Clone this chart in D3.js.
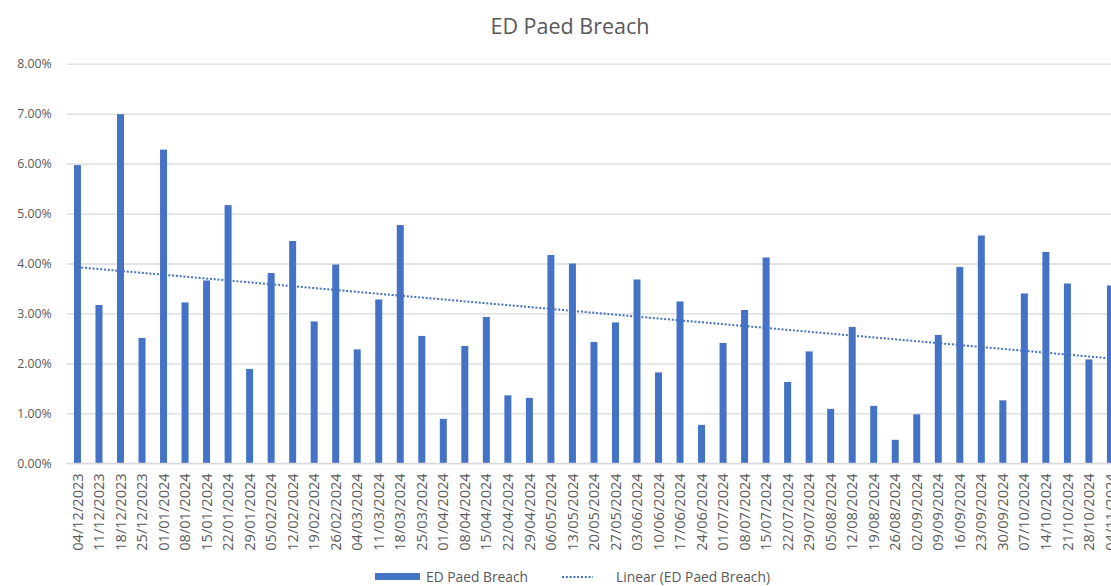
<!DOCTYPE html>
<html>
<head>
<meta charset="utf-8">
<script src="https://cdnjs.cloudflare.com/ajax/libs/d3/7.8.5/d3.min.js"></script>
<style>
  html, body { margin: 0; padding: 0; background: #fff; overflow: hidden; }
  svg { display: block; font-family: "Open Sans", "Noto Sans", sans-serif; }
</style>
</head>
<body>
<div id="chart"></div>
<script>
// weekly dates (week commencing)
var weeks = [
  "04/12/2023", "11/12/2023", "18/12/2023", "25/12/2023",
  "01/01/2024", "08/01/2024", "15/01/2024", "22/01/2024", "29/01/2024",
  "05/02/2024", "12/02/2024", "19/02/2024", "26/02/2024",
  "04/03/2024", "11/03/2024", "18/03/2024", "25/03/2024",
  "01/04/2024", "08/04/2024", "15/04/2024", "22/04/2024", "29/04/2024",
  "06/05/2024", "13/05/2024", "20/05/2024", "27/05/2024",
  "03/06/2024", "10/06/2024", "17/06/2024", "24/06/2024",
  "01/07/2024", "08/07/2024", "15/07/2024", "22/07/2024", "29/07/2024",
  "05/08/2024", "12/08/2024", "19/08/2024", "26/08/2024",
  "02/09/2024", "09/09/2024", "16/09/2024", "23/09/2024", "30/09/2024",
  "07/10/2024", "14/10/2024", "21/10/2024", "28/10/2024",
  "04/11/2024"
];

// ED Paed Breach (%)
var breachPct = [
  5.97, 3.17, 6.99, 2.51,
  6.28, 3.22, 3.66, 5.17, 1.89,
  3.81, 4.45, 2.84, 3.98,
  2.28, 3.28, 4.77, 2.55,
  0.89, 2.35, 2.93, 1.36, 1.31,
  4.17, 4.00, 2.43, 2.82,
  3.68, 1.82, 3.24, 0.77,
  2.41, 3.07, 4.12, 1.63, 2.24,
  1.09, 2.73, 1.15, 0.47,
  0.98, 2.57, 3.93, 4.56, 1.26,
  3.40, 4.23, 3.60, 2.08,
  3.56
];

var yTicks = [0, 0.01, 0.02, 0.03, 0.04, 0.05, 0.06, 0.07, 0.08];

var chartTitle = "ED Paed Breach";
var seriesName = "ED Paed Breach";
var trendName = "Linear (ED Paed Breach)";

var svgWidth = 1111;
var svgHeight = 586;

// plot area runs a bit past the right edge of the window (as in the original)
var plot = { left: 66.7, right: 1121.2, top: 63.7, bottom: 463.3 };

var barColor = "#4472C4";
var textColor = "#595959";
var gridColor = "#d9d9d9";

var data = weeks.map(function (w, i) {
  return { week: w, value: breachPct[i] / 100, idx: i };
});

var svg = d3.select("#chart").append("svg")
  .attr("width", svgWidth)
  .attr("height", svgHeight);

// scales
var xScale = d3.scaleBand()
  .domain(weeks)
  .range([plot.left, plot.right])
  .paddingInner(0.675)
  .paddingOuter(0.3375);

var yScale = d3.scaleLinear()
  .domain([0, 0.08])
  .range([plot.bottom, plot.top]);

// title
svg.append("text")
  .attr("x", 570)
  .attr("y", 34)
  .attr("text-anchor", "middle")
  .style("font-size", "21.5px")
  .style("fill", textColor)
  .text(chartTitle);

// y axis + gridlines
var yAxis = d3.axisLeft(yScale)
  .tickValues(yTicks)
  .tickFormat(d3.format(".2%"))
  .tickSize(-(plot.right - plot.left))
  .tickPadding(15);

var yAxisG = svg.append("g")
  .attr("transform", "translate(" + plot.left + ",0)")
  .call(yAxis);

yAxisG.select(".domain").remove();
yAxisG.selectAll(".tick line")
  .attr("stroke", gridColor)
  .attr("stroke-width", 1.3);
yAxisG.selectAll(".tick text")
  .style("font-size", "12.3px")
  .style("fill", textColor)
  .style("font-family", "'Open Sans', sans-serif");

// bars
svg.append("g")
  .selectAll("rect")
  .data(data)
  .enter()
  .append("rect")
    .attr("x", function (d) { return xScale(d.week); })
    .attr("y", function (d) { return yScale(d.value); })
    .attr("width", xScale.bandwidth())
    .attr("height", function (d) { return yScale(0) - yScale(d.value); })
    .attr("fill", barColor);

// linear trend (least squares, like the spreadsheet trendline)
var n = data.length;
var meanX = d3.mean(data, function (d) { return d.idx; });
var meanY = d3.mean(data, function (d) { return d.value; });
var sxy = d3.sum(data, function (d) { return (d.idx - meanX) * (d.value - meanY); });
var sxx = d3.sum(data, function (d) { return (d.idx - meanX) * (d.idx - meanX); });
var slope = sxy / sxx;
var intercept = meanY - slope * meanX;

var trendPts = [data[0], data[n - 1]].map(function (d) {
  return { week: d.week, value: intercept + slope * d.idx };
});

var trendLine = d3.line()
  .x(function (d) { return xScale(d.week) + xScale.bandwidth() / 2; })
  .y(function (d) { return yScale(d.value); });

svg.append("path")
  .datum(trendPts)
  .attr("d", trendLine)
  .attr("fill", "none")
  .attr("stroke", barColor)
  .attr("stroke-width", 2)
  .attr("stroke-dasharray", "2,1.8");

// x axis (category labels, rotated)
var xAxis = d3.axisBottom(xScale).tickSize(0).tickPadding(0);

var xAxisG = svg.append("g")
  .attr("transform", "translate(0," + plot.bottom + ")")
  .call(xAxis);

xAxisG.select(".domain")
  .attr("stroke", gridColor)
  .attr("stroke-width", 1.3)
  .attr("d", "M" + plot.left + ",0H" + plot.right);

xAxisG.selectAll(".tick text")
  .attr("transform", "rotate(-90)")
  .attr("x", -10)
  .attr("y", 0)
  .attr("dy", "0.35em")
  .attr("text-anchor", "end")
  .style("font-size", "14.6px")
  .style("fill", textColor)
  .style("font-family", "'Open Sans', sans-serif");

// legend
var legend = svg.append("g");

legend.append("rect")
  .attr("x", 375)
  .attr("y", 573)
  .attr("width", 45)
  .attr("height", 7)
  .attr("fill", barColor);

legend.append("text")
  .attr("x", 426)
  .attr("y", 582)
  .style("font-size", "13.8px")
  .style("fill", textColor)
  .text(seriesName);

legend.append("line")
  .attr("x1", 562)
  .attr("x2", 593)
  .attr("y1", 577)
  .attr("y2", 577)
  .attr("stroke", barColor)
  .attr("stroke-width", 2)
  .attr("stroke-dasharray", "2,1.8");

legend.append("text")
  .attr("x", 616)
  .attr("y", 582)
  .style("font-size", "13.8px")
  .style("fill", textColor)
  .text(trendName);
</script>
</body>
</html>
